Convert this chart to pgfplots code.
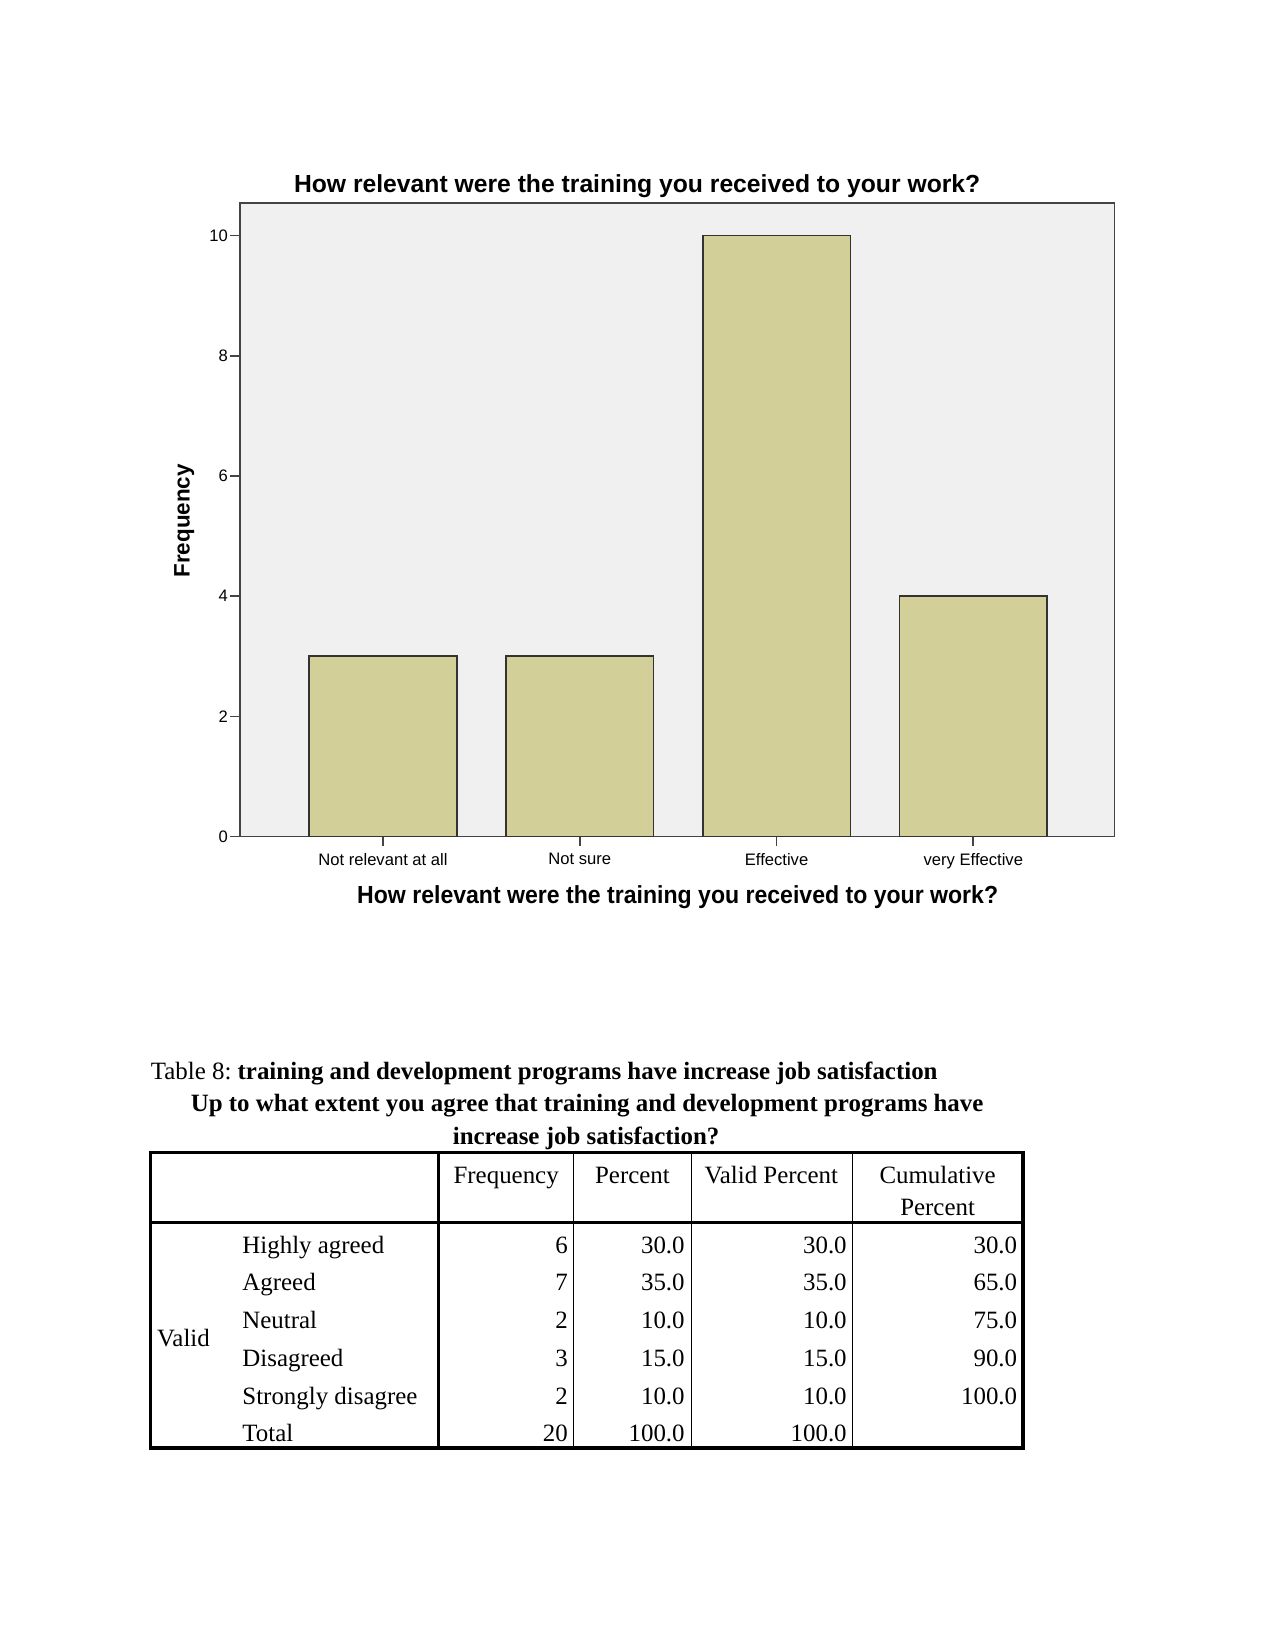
\documentclass[border=0pt]{standalone}
\usepackage{pgfplots}
\pgfplotsset{compat=1.18}
\usepackage{fontspec}
\setmainfont{Liberation Serif}
\setsansfont{Liberation Sans}
\definecolor{axbg}{HTML}{F0F0F0}
\definecolor{barfill}{HTML}{D3CF98}
\definecolor{frame}{HTML}{444444}
\begin{document}
\begin{tikzpicture}[x=0.178189mm,y=-0.178189mm]
\fill[white] (0,0) rectangle (1212,1568);
\coordinate (axSW) at (228,795);
% chart title
\node[font=\sffamily\bfseries\fontsize{11.9}{14}\selectfont] at (605.5,177) {How relevant were the training you received to your work?};
\begin{axis}[
  at={(axSW)}, anchor=south west,
  scale only axis, width=148.08mm, height=107.27mm,
  xmin=-0.727, xmax=3.717, ymin=0, ymax=10.54,
  axis background/.style={fill=axbg},
  axis line style={draw=frame, line width=0.8pt},
  tick style={draw=frame, line width=0.8pt},
  tick align=outside, tick pos=left, major tick length=4.6pt,
  xtick={0,1,2,3},
  xticklabels={Not relevant at all, Not sure, Effective, very Effective},
  ytick={0,2,4,6,8,10},
  ticklabel style={font=\sffamily\fontsize{8}{9}\selectfont},
  yticklabel style={inner xsep=1pt},
  /pgf/number format/assume math mode=true,
  ybar, bar width=0.75,
]
\addplot[fill=barfill, draw=black!80, line width=0.8pt] coordinates {(0,3) (1,3) (2,10) (3,4)};
\end{axis}
\node[font=\sffamily\bfseries\fontsize{11.9}{14}\selectfont] at (644,853) {\scalebox{0.934}[1]{How relevant were the training you received to your work?}};
\node[font=\sffamily\bfseries\fontsize{10.8}{13}\selectfont, rotate=90] at (175,495) {Frequency};
% table caption
\node[anchor=mid west, inner sep=0pt, font=\fontsize{12}{14}\selectfont] at (143,1021) {Table 8:\ \textbf{training and development programs have increase job satisfaction}};
\node[anchor=mid, inner sep=0pt, font=\bfseries\fontsize{12}{14}\selectfont] at (558,1052) {Up to what extent you agree that training and development programs have};
\node[anchor=mid, inner sep=0pt, font=\bfseries\fontsize{12}{14}\selectfont] at (557,1083) {increase job satisfaction?};
% table lines
\draw[line width=0.5pt] (545,1095) -- (545,1376);
\draw[line width=0.5pt] (657,1095) -- (657,1376);
\draw[line width=0.5pt] (810,1095) -- (810,1376);
\draw[line width=1.6pt] (417,1095) -- (417,1376);
\draw[line width=1.6pt] (143,1162) -- (972,1162);
\draw[line width=1.6pt] (143,1095) rectangle (972,1376);
% header
\begin{scope}[every node/.style={inner sep=0pt, font=\fontsize{12}{14}\selectfont}]
\node[anchor=mid] at (481,1120) {Frequency};
\node[anchor=mid] at (601,1120) {Percent};
\node[anchor=mid] at (733,1120) {Valid Percent};
\node[anchor=mid] at (891,1120) {Cumulative};
\node[anchor=mid] at (891,1151) {Percent};
\node[anchor=mid west] at (149,1275) {Valid};
\foreach \y/\lab/\f/\p/\v/\c in {1187/Highly agreed/6/30.0/30.0/30.0, 1222/Agreed/7/35.0/35.0/65.0, 1258/Neutral/2/10.0/10.0/75.0, 1294/Disagreed/3/15.0/15.0/90.0, 1330/Strongly disagree/2/10.0/10.0/100.0, 1365/Total/20/100.0/100.0/{}}{
  \node[anchor=mid west] at (230,\y) {\lab};
  \node[anchor=mid east] at (540,\y) {\f};
  \node[anchor=mid east] at (651,\y) {\p};
  \node[anchor=mid east] at (805,\y) {\v};
  \node[anchor=mid east] at (967,\y) {\c};
}
\end{scope}
\end{tikzpicture}
\end{document}
